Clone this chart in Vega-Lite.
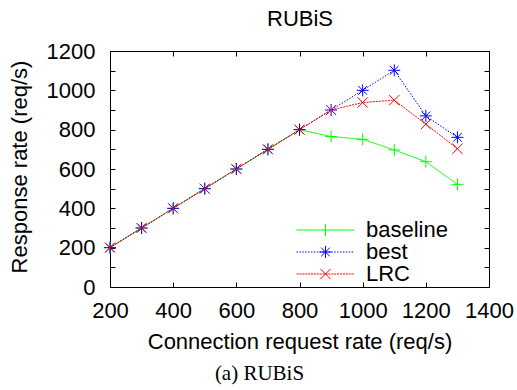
{
  "$schema": "https://vega.github.io/schema/vega-lite/v6.json",
  "width": 379,
  "height": 236,
  "autosize": {"type": "none"},
  "padding": {"left": 110, "top": 51, "right": 28, "bottom": 103},
  "background": "white",
  "title": {"text": "(a) RUBiS", "orient": "bottom", "frame": "group", "anchor": "middle", "font": "Liberation Serif", "fontSize": 21, "fontWeight": "normal", "color": "black", "dx": -40, "offset": 11},
  "config": {
    "view": {"stroke": null},
    "axis": {
      "labelFont": "Liberation Sans", "labelFontSize": 22, "labelColor": "black",
      "titleFont": "Liberation Sans", "titleFontSize": 22, "titleFontWeight": "normal", "titleColor": "black",
      "domainColor": "black", "domainWidth": 1, "tickColor": "black", "tickWidth": 1, "tickSize": -5,
      "grid": false, "labelFlush": false, "labelOverlap": false, "format": "d"
    }
  },
  "data": {"values": [
    {"rate": 200, "response": 200, "series": "baseline"},
    {"rate": 300, "response": 300, "series": "baseline"},
    {"rate": 400, "response": 400, "series": "baseline"},
    {"rate": 500, "response": 500, "series": "baseline"},
    {"rate": 600, "response": 600, "series": "baseline"},
    {"rate": 700, "response": 700, "series": "baseline"},
    {"rate": 800, "response": 800, "series": "baseline"},
    {"rate": 900, "response": 765, "series": "baseline"},
    {"rate": 1000, "response": 751, "series": "baseline"},
    {"rate": 1100, "response": 697, "series": "baseline"},
    {"rate": 1200, "response": 637, "series": "baseline"},
    {"rate": 1300, "response": 522, "series": "baseline"},
    {"rate": 200, "response": 200, "series": "best"},
    {"rate": 300, "response": 300, "series": "best"},
    {"rate": 400, "response": 400, "series": "best"},
    {"rate": 500, "response": 500, "series": "best"},
    {"rate": 600, "response": 600, "series": "best"},
    {"rate": 700, "response": 700, "series": "best"},
    {"rate": 800, "response": 800, "series": "best"},
    {"rate": 900, "response": 900, "series": "best"},
    {"rate": 1000, "response": 1000, "series": "best"},
    {"rate": 1100, "response": 1102, "series": "best"},
    {"rate": 1200, "response": 870, "series": "best"},
    {"rate": 1300, "response": 761, "series": "best"},
    {"rate": 200, "response": 200, "series": "LRC"},
    {"rate": 300, "response": 300, "series": "LRC"},
    {"rate": 400, "response": 400, "series": "LRC"},
    {"rate": 500, "response": 500, "series": "LRC"},
    {"rate": 600, "response": 600, "series": "LRC"},
    {"rate": 700, "response": 700, "series": "LRC"},
    {"rate": 800, "response": 800, "series": "LRC"},
    {"rate": 900, "response": 900, "series": "LRC"},
    {"rate": 1000, "response": 938, "series": "LRC"},
    {"rate": 1100, "response": 950, "series": "LRC"},
    {"rate": 1200, "response": 828, "series": "LRC"},
    {"rate": 1300, "response": 703, "series": "LRC"}
  ]},
  "layer": [
    {
      "mark": {"type": "line", "strokeWidth": 1, "clip": false},
      "encoding": {
        "x": {"field": "rate", "type": "quantitative",
          "scale": {"domain": [200, 1400], "nice": false, "zero": false},
          "axis": {"orient": "bottom", "values": [200, 400, 600, 800, 1000, 1200, 1400], "title": "Connection request rate (req/s)", "labelPadding": 18, "titleX": 189.5, "titleY": 61, "titleAlign": "center", "titleBaseline": "alphabetic"}},
        "y": {"field": "response", "type": "quantitative",
          "scale": {"domain": [0, 1200], "nice": false, "zero": false},
          "axis": {"orient": "left", "values": [0, 100, 200, 300, 400, 500, 600, 700, 800, 900, 1000, 1100, 1200], "labelExpr": "datum.value % 200 === 0 ? datum.label : ''", "title": "Response rate (req/s)", "labelPadding": 20, "titleX": -83.5, "titleY": 115.5, "titleAngle": -90, "titleAlign": "center", "titleBaseline": "alphabetic"}},
        "color": {"field": "series", "type": "nominal",
          "scale": {"domain": ["baseline", "best", "LRC"], "range": ["#00ff00", "#0000ff", "#ff0000"]}, "legend": null},
        "strokeDash": {"field": "series", "type": "nominal",
          "scale": {"domain": ["baseline", "best", "LRC"], "range": [[1, 0], [1.5, 1.5], [2, 1]]}, "legend": null}
      }
    },
    {
      "mark": {"type": "point", "filled": false, "strokeWidth": 1, "size": 144, "opacity": 1, "clip": false},
      "encoding": {
        "x": {"field": "rate", "type": "quantitative", "axis": null},
        "y": {"field": "response", "type": "quantitative", "axis": null},
        "color": {"field": "series", "type": "nominal",
          "scale": {"domain": ["baseline", "best", "LRC"], "range": ["#00ff00", "#0000ff", "#ff0000"]}, "legend": null},
        "shape": {"field": "series", "type": "nominal",
          "scale": {"domain": ["baseline", "best", "LRC"], "range": [
            "M-1,0L1,0M0,-1L0,1",
            "M-1,0L1,0M0,-1L0,1M-0.72,-0.72L0.72,0.72M-0.72,0.72L0.72,-0.72",
            "M-0.85,-0.85L0.85,0.85M-0.85,0.85L0.85,-0.85"
          ]}, "legend": null}
      }
    },
    {
      "transform": [{"filter": "false"}],
      "mark": {"type": "point", "filled": false, "strokeWidth": 1, "opacity": 1},
      "encoding": {
        "x": {"field": "rate", "type": "quantitative",
          "axis": {"orient": "top", "values": [200, 400, 600, 800, 1000, 1200, 1400], "labels": false, "title": "RUBiS", "titleX": 189.5, "titleY": -26, "titleAlign": "center", "titleBaseline": "alphabetic"}},
        "y": {"field": "response", "type": "quantitative",
          "axis": {"orient": "right", "values": [0, 100, 200, 300, 400, 500, 600, 700, 800, 900, 1000, 1100, 1200], "labels": false, "title": null}},
        "color": {"field": "series", "type": "nominal",
          "scale": {"domain": ["baseline", "best", "LRC"], "range": ["#00ff00", "#0000ff", "#ff0000"]},
          "legend": {"orient": "none", "legendX": 186, "legendY": 169, "title": null, "padding": 0, "labelFont": "Liberation Sans", "labelFontSize": 22, "labelColor": "black", "symbolSize": 3364, "symbolStrokeWidth": 1, "clipHeight": 20, "rowPadding": 0, "labelOffset": 11, "symbolOffset": 0, "labelLimit": 0}},
        "shape": {"field": "series", "type": "nominal",
          "scale": {"domain": ["baseline", "best", "LRC"], "range": [
            "M-1,0L1,0M0,-0.207L0,0.207",
            "M-1,0L-0.95,0M-0.9,0L-0.85,0M-0.8,0L-0.75,0M-0.7,0L-0.65,0M-0.6,0L-0.55,0M-0.5,0L-0.45,0M-0.4,0L-0.35,0M-0.3,0L-0.25,0M-0.2,0L-0.15,0M-0.1,0L-0.05,0M0,0L0.05,0M0.1,0L0.15,0M0.2,0L0.25,0M0.3,0L0.35,0M0.4,0L0.45,0M0.5,0L0.55,0M0.6,0L0.65,0M0.7,0L0.75,0M0.8,0L0.85,0M0.9,0L0.95,0M-0.207,0L0.207,0M0,-0.207L0,0.207M-0.15,-0.15L0.15,0.15M-0.15,0.15L0.15,-0.15",
            "M-1,0L-0.93,0M-0.9,0L-0.83,0M-0.8,0L-0.73,0M-0.7,0L-0.63,0M-0.6,0L-0.53,0M-0.5,0L-0.43,0M-0.4,0L-0.33,0M-0.3,0L-0.23,0M-0.2,0L-0.13,0M-0.1,0L-0.03,0M0,0L0.07,0M0.1,0L0.17,0M0.2,0L0.27,0M0.3,0L0.37,0M0.4,0L0.47,0M0.5,0L0.57,0M0.6,0L0.67,0M0.7,0L0.77,0M0.8,0L0.87,0M0.9,0L0.97,0M-0.18,-0.18L0.18,0.18M-0.18,0.18L0.18,-0.18"
          ]},
          "legend": {"orient": "none", "legendX": 186, "legendY": 169, "title": null, "padding": 0, "labelFont": "Liberation Sans", "labelFontSize": 22, "labelColor": "black", "symbolSize": 3364, "symbolStrokeWidth": 1, "clipHeight": 20, "rowPadding": 0, "labelOffset": 11, "symbolOffset": 0, "labelLimit": 0}}
      }
    }
  ],
  "resolve": {
    "scale": {"shape": "independent", "color": "independent"},
    "axis": {"x": "independent", "y": "independent"}
  }
}
